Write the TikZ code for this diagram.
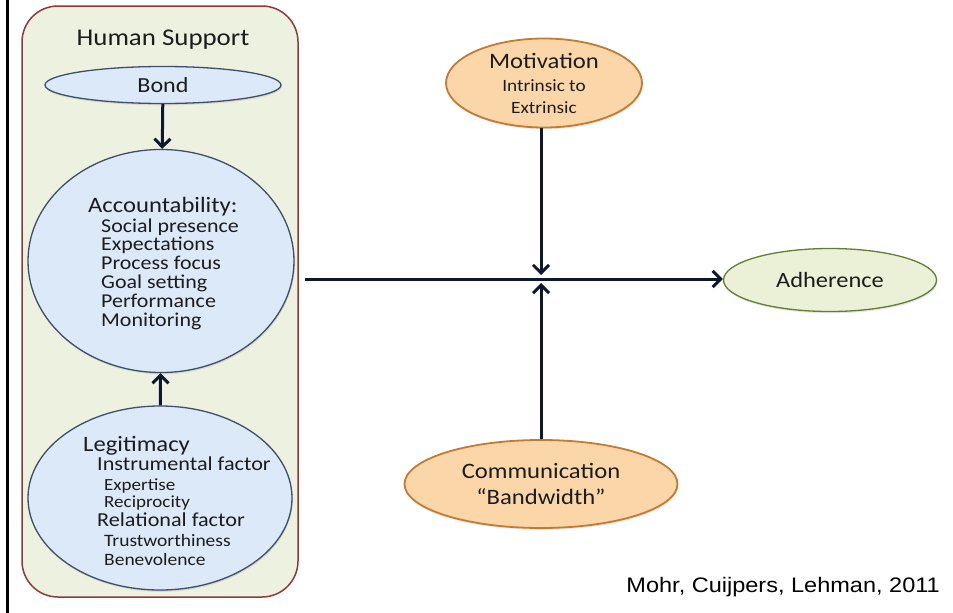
\documentclass[tikz,border=0pt]{standalone}
\usepackage{fontspec}
\setmainfont{Carlito}[FakeStretch=1.12]
\newfontfamily\citefont{Liberation Sans}[FakeStretch=1.12]
\usetikzlibrary{arrows.meta,shapes.geometric,shadows}
\definecolor{supportfill}{RGB}{237,241,224}
\definecolor{supportline}{RGB}{145,58,52}
\definecolor{bubbleblue}{RGB}{220,233,249}
\definecolor{bubbleline}{RGB}{62,80,104}
\definecolor{peachfill}{RGB}{251,214,168}
\definecolor{peachline}{RGB}{196,122,50}
\definecolor{adherefill}{RGB}{235,241,214}
\definecolor{adhereline}{RGB}{98,125,52}
\definecolor{arrowink}{RGB}{14,24,44}
\definecolor{textink}{RGB}{28,28,28}
\newcommand\tightlines{\lineskiplimit=-50pt\relax}

\begin{document}
\begin{tikzpicture}[x=1pt, y=-1pt,
  bubble/.style={ellipse, inner sep=0pt, line width=1.3pt, text=textink, align=center,
    drop shadow={opacity=0.2, shadow xshift=0.8pt, shadow yshift=-1.8pt}},
  bluebubble/.style={bubble, draw=bubbleline, fill=bubbleblue},
  peachbubble/.style={bubble, draw=peachline, fill=peachfill, line width=1.8pt},
  listtext/.style={align=left, anchor=north west, inner sep=0pt, text=textink},
  flow/.style={draw=arrowink, line width=3pt, -{Straight Barb[length=8pt,width=16pt]}}]
\useasboundingbox (0,0) rectangle (953,613);

% frame and human support panel
\draw[line width=3pt] (7,0) -- (7,613);
\draw[draw=supportline, fill=supportfill, line width=1.5pt, rounded corners=36pt] (22,6) rectangle (298,597);
\node[text=textink, font=\fontsize{24}{24}\selectfont] (title) at (163,40) {Human Support};

% bubbles in the panel
\node[bluebubble, minimum width=236pt, minimum height=37pt, font=\fontsize{21.5}{22}\selectfont] (bond) at (163,85) {Bond};
\node[bluebubble, minimum width=266pt, minimum height=223pt] (account) at (161,261) {};
\node[listtext, font={\fontsize{19.6}{19}\selectfont\tightlines}] (accounttext) at (88,197) {%
  {\fontsize{22}{22}\selectfont Accountability:}\\[1pt]
  \hspace*{13pt}Social presence\\[-1pt]
  \hspace*{13pt}Expectations\\
  \hspace*{13pt}Process focus\\
  \hspace*{13pt}Goal setting\\
  \hspace*{13pt}Performance\\
  \hspace*{13pt}Monitoring};
\node[bluebubble, minimum width=264pt, minimum height=184pt] (legit) at (160,498) {};
\node[listtext, font={\fontsize{19.8}{19}\selectfont\tightlines}] (legittext) at (83,436) {%
  {\fontsize{22}{22}\selectfont Legitimacy}\\
  \hspace*{14pt}Instrumental factor\\[1pt]
  \hspace*{21pt}{\fontsize{17}{17}\selectfont Expertise}\\[-2pt]
  \hspace*{21pt}{\fontsize{17}{17}\selectfont Reciprocity}\\
  \hspace*{14pt}Relational factor\\[1pt]
  \hspace*{21pt}{\fontsize{17.4}{17}\selectfont Trustworthiness}\\
  \hspace*{21pt}{\fontsize{17.4}{17}\selectfont Benevolence}};

% outside bubbles
\node[peachbubble, minimum width=196pt, minimum height=89pt, font=\fontsize{17.2}{22}\selectfont] (motiv) at (544,83)
  {{\fontsize{22}{22}\selectfont Motivation}\\[1pt] Intrinsic to\\ Extrinsic};
\node[bubble, draw=adhereline, fill=adherefill, minimum width=213pt, minimum height=63pt, font=\fontsize{21.8}{22}\selectfont] (adhere) at (830,280) {Adherence};
\node[peachbubble, minimum width=273pt, minimum height=88pt, font=\fontsize{22}{26}\selectfont] (commun) at (541,484)
  {Communication\\ “Bandwidth”};

\node[anchor=base east, inner sep=0pt, font=\citefont\fontsize{21}{21}\selectfont] (cite) at (940,592) {Mohr, Cuijpers, Lehman, 2011};

% connectors
\coordinate (hstart) at (305,279);
\coordinate (mtip) at (541,275);
\coordinate (ctip) at (541,283);
\draw[flow] (bond) -- (account);
\draw[flow] (legit) -- (account);
\draw[flow] (hstart) -- (hstart -| adhere.west);
\draw[flow] (mtip |- motiv.south) -- (mtip);
\draw[flow] (ctip |- commun.north) -- (ctip);
\end{tikzpicture}
\end{document}
